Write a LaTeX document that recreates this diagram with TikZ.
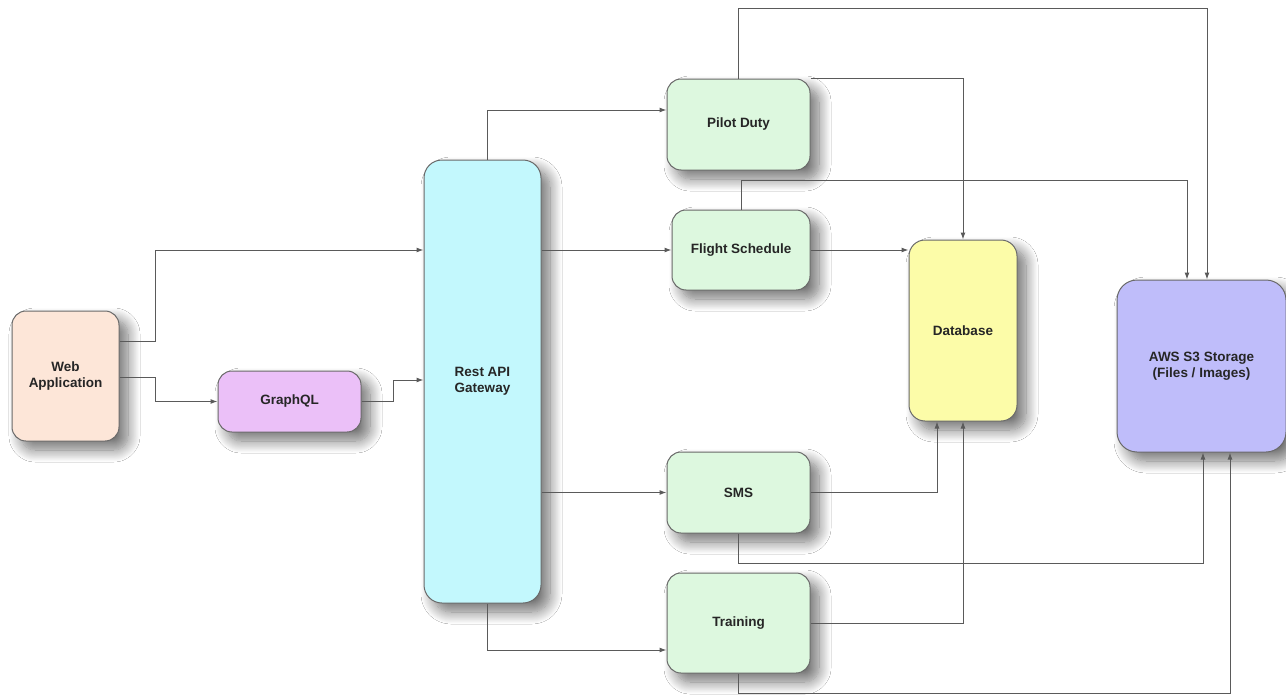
\documentclass[tikz,border=0pt]{standalone}
\usepackage{fontspec}
\setmainfont{Liberation Sans}
\usetikzlibrary{shadows.blur,arrows.meta}
\definecolor{cweb}{HTML}{FDE6D8}
\definecolor{cgql}{HTML}{EBC0F8}
\definecolor{crest}{HTML}{C3F8FD}
\definecolor{cgreen}{HTML}{DDF8DF}
\definecolor{cdb}{HTML}{FCFCA8}
\definecolor{caws}{HTML}{BFBDFA}
\definecolor{cline}{HTML}{5A5A5A}
\definecolor{cbord}{HTML}{6A6A6A}
\tikzset{
  box/.style={draw=cbord, line width=1pt, rounded corners=14pt, inner sep=0pt,
    align=center, font=\fontsize{13.5}{16}\selectfont\bfseries, text=black!85,
    blur shadow={shadow xshift=9pt, shadow yshift=-9pt, shadow blur radius=12pt, shadow blur steps=14, shadow opacity=55}},
  arr/.style={draw=cline, line width=1pt, -{Latex[length=7pt,width=5pt]}},
}
\begin{document}
\begin{tikzpicture}[x=1pt,y=-1pt]
\useasboundingbox (0,0) rectangle (1286,696);
\fill[white] (0,0) rectangle (1286,696);
\node[box, fill=cweb, minimum width=107pt, minimum height=130pt] (web) at (65.5,376) {Web\\Application};
\node[box, fill=cgql, minimum width=143pt, minimum height=61pt] (gql) at (289.5,401.5) {GraphQL};
\node[box, fill=crest, minimum width=117pt, minimum height=443pt, rounded corners=18pt] (rest) at (482.5,381.5) {Rest API\\Gateway};
\node[box, fill=cgreen, minimum width=143pt, minimum height=91pt] (pilot) at (738.5,124.5) {Pilot Duty};
\node[box, fill=cgreen, minimum width=138pt, minimum height=80pt] (fs) at (741,250) {Flight Schedule};
\node[box, fill=cgreen, minimum width=143pt, minimum height=81pt] (sms) at (738.5,492.5) {SMS};
\node[box, fill=cgreen, minimum width=143pt, minimum height=100pt] (train) at (738.5,623) {Training};
\node[box, fill=cdb, minimum width=108pt, minimum height=181pt, rounded corners=16pt] (db) at (963,330.5) {Database};
\node[box, fill=caws, minimum width=169pt, minimum height=172pt, rounded corners=20pt] (aws) at (1201.5,366) {AWS S3 Storage\\(Files / Images)};

\draw[arr] (web.east |- 0,341) -| (155,250) -- (rest.west |- 0,250);
\draw[arr] (web.east |- 0,377) -| (155,401.5) -- (gql.west);
\draw[arr] (gql.east) -| (393,380) -- (rest.west |- 0,380);
\draw[arr] (rest.north -| 487,0) |- (pilot.west |- 0,110);
\draw[arr] (rest.east |- fs.west) -- (fs.west);
\draw[arr] (rest.east |- sms.west) -- (sms.west);
\draw[arr] (rest.south -| 487,0) |- (train.west |- 0,650);
\draw[arr] (pilot.north) |- (1207,8) -- (aws.north -| 1207,0);
\draw[arr] (pilot.north east) -| (db.north);
\draw[arr] (fs.north) |- (1187,180) -- (aws.north -| 1187,0);
\draw[arr] (fs.east) -- (db.west |- fs.east);
\draw[arr] (sms.east) -| (db.south -| 937,0);
\draw[arr] (train.east) -| (db.south);
\draw[arr] (sms.south) |- (1203,563) -- (aws.south -| 1203,0);
\draw[arr] (train.south) |- (1230,693) -- (aws.south -| 1230,0);
\end{tikzpicture}
\end{document}
